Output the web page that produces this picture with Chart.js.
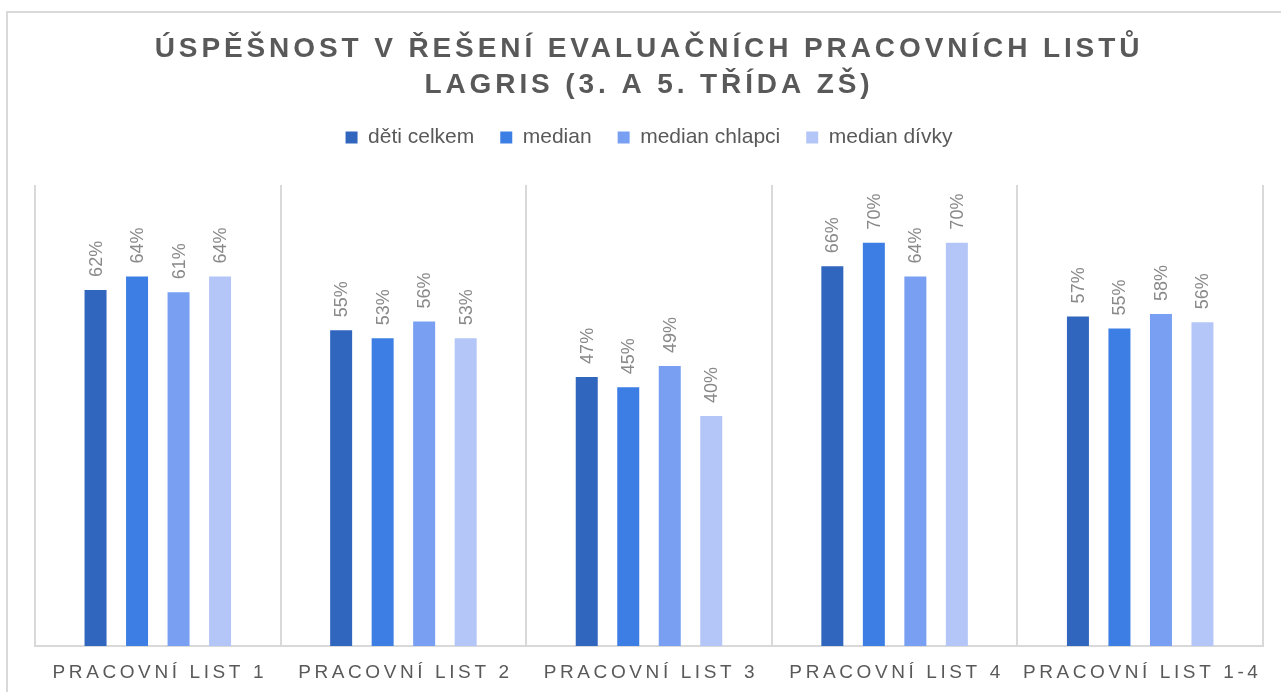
<!DOCTYPE html>
<html>
<head>
<meta charset="utf-8">
<script src="https://cdn.jsdelivr.net/npm/chart.js@4.4.1/dist/chart.umd.min.js"></script>
<style>
  html, body { margin: 0; padding: 0; background: #fff; overflow: hidden; }
  #frame { position: absolute; left: 6px; top: 11px; width: 1300px; height: 700px; border: 2px solid #d9d9d9; box-sizing: border-box; }
  #wrap { position: absolute; left: 0; top: 0; width: 1281px; height: 692px; }
</style>
</head>
<body>
<div id="frame"></div>
<div id="wrap"><canvas id="chart"></canvas></div>
<script>
// data
const categories = ["PRACOVNÍ LIST 1", "PRACOVNÍ LIST 2", "PRACOVNÍ LIST 3", "PRACOVNÍ LIST 4", "PRACOVNÍ LIST 1-4"];
const detiCelkem = [61.8, 54.8, 46.7, 65.9, 57.2];
const median = [64.1, 53.4, 44.9, 70.0, 55.1];
const medianChlapci = [61.4, 56.3, 48.6, 64.1, 57.6];
const medianDivky = [64.1, 53.4, 39.9, 70.0, 56.2];
const seriesNames = ["děti celkem", "median", "median chlapci", "median dívky"];
const titleLines = ["ÚSPĚŠNOST V ŘEŠENÍ EVALUAČNÍCH PRACOVNÍCH LISTŮ", "LAGRIS (3. A 5. TŘÍDA ZŠ)"];

const colors = ["#3066be", "#3c7ee3", "#789ff2", "#b4c6f8"];
const grey = "#595959";

// title, category labels and value labels (drawn with letter spacing like the original)
const extraText = {
    id: "extraText",
    afterDraw(chart) {
        const ctx = chart.ctx;
        const xScale = chart.scales.x;

        ctx.save();
        ctx.fillStyle = grey;
        ctx.textAlign = "center";
        ctx.textBaseline = "middle";
        ctx.font = "bold 28px 'Liberation Sans'";
        ctx.letterSpacing = "3.9px";
        ctx.fillText(titleLines[0], 649, 49);
        ctx.fillText(titleLines[1], 649, 85);

        ctx.font = "19px 'Liberation Sans'";
        ctx.letterSpacing = "3.6px";
        categories.forEach((label, i) => {
            ctx.fillText(label, xScale.getPixelForValue(i) + 2, 673);
        });
        ctx.restore();

        ctx.save();
        ctx.fillStyle = "#898989";
        ctx.font = "18px 'Liberation Sans'";
        ctx.textAlign = "left";
        ctx.textBaseline = "middle";
        chart.data.datasets.forEach((ds, di) => {
            const meta = chart.getDatasetMeta(di);
            meta.data.forEach((bar, i) => {
                ctx.save();
                ctx.translate(bar.x + 1, bar.y - 13);
                ctx.rotate(-Math.PI / 2);
                ctx.fillText(Math.round(ds.data[i]) + "%", 0, 0);
                ctx.restore();
            });
        });
        ctx.restore();
    },
};

const datasets = [detiCelkem, median, medianChlapci, medianDivky].map((values, i) => ({
    label: seriesNames[i],
    data: values,
    backgroundColor: colors[i],
    categoryPercentage: 0.676,
    barPercentage: 0.53,
}));

new Chart(document.getElementById("chart"), {
    type: "bar",
    data: { labels: categories, datasets },
    plugins: [extraText],
    options: {
        responsive: true,
        maintainAspectRatio: false,
        animation: false,
        layout: { padding: { left: 35, right: 18, top: 101, bottom: 0 } },
        plugins: {
            legend: {
                position: "top",
                labels: {
                    boxWidth: 12,
                    boxHeight: 12,
                    padding: 26,
                    color: grey,
                    font: { family: "'Liberation Sans'", size: 21 },
                },
            },
            tooltip: { enabled: false },
        },
        scales: {
            x: {
                grid: { offset: true, color: "#d9d9d9", lineWidth: 2, drawTicks: false },
                border: { color: "#d9d9d9", width: 2 },
                ticks: { display: false },
                afterFit: (scale) => { scale.height = 46; },
            },
            x2: {
                position: "top",
                grid: { display: false },
                border: { display: false },
                ticks: { display: false },
                afterFit: (scale) => { scale.height = 27; },
            },
            y: { display: false, min: 0, max: 80 },
        },
    },
});
</script>
</body>
</html>
